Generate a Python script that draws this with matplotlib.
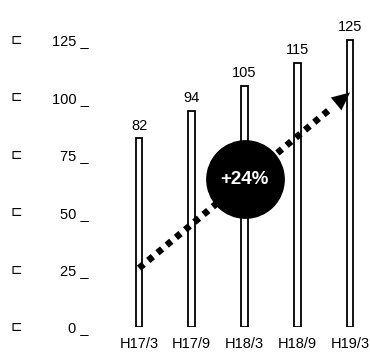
import matplotlib
matplotlib.use("Agg")
import matplotlib.pyplot as plt
from matplotlib.transforms import blended_transform_factory

periods = ["H17/3", "H17/9", "H18/3", "H18/9", "H19/3"]
values = [82, 94, 105, 115, 125]
yticks = [0, 25, 50, 75, 100, 125]
growth_label = "+24%"
trend_start = 25.6
trend_end = 102

plt.rcParams["font.family"] = ["Liberation Sans", "DejaVu Sans"]

fig = plt.figure(figsize=(3.70, 3.56), dpi=100)
ax = fig.add_axes([100 / 370, 29 / 356, 268 / 370, 327 / 356])

x = list(range(len(values)))
ax.bar(x, values, width=0.13, color="white", edgecolor="black", linewidth=1.3, zorder=2)
for xi, v in zip(x, values):
    ax.text(xi, v + 2.5, str(v), ha="center", va="bottom", fontsize=10.5)

# dotted trend arrow
ax.plot([x[0], x[-1] - 0.35], [trend_start, trend_start + (trend_end - trend_start) * (1 - 0.35 / 4)],
        color="black", linewidth=4.8, linestyle=(0, (0.9, 0.9)), zorder=3)
ax.annotate("", xy=(x[-1], trend_end), xytext=(x[-1] - 0.4, trend_end - 7.6),
            arrowprops=dict(arrowstyle="-|>,head_length=1.3,head_width=0.6",
                            color="black", lw=0, shrinkA=0, shrinkB=0), zorder=3)

# growth badge
ax.scatter([2], [64.3], s=3100, color="black", zorder=4)
ax.text(2, 64.3, growth_label, color="white", fontsize=13.5, fontweight="bold",
        ha="center", va="center", zorder=5)

ax.set_xlim(-0.74, 4.34)
ax.set_ylim(0, 142.2)
ax.set_xticks(x)
ax.set_xticklabels(periods, fontsize=10.5)
ax.set_yticks(yticks)
ax.set_yticklabels([f"{t} _" for t in yticks], fontsize=10.5)
ax.tick_params(axis="both", length=0)
ax.tick_params(axis="y", pad=8)
ax.tick_params(axis="x", pad=7)
for s in ax.spines.values():
    s.set_visible(False)

trans = blended_transform_factory(fig.transFigure, ax.transData)
for t in yticks:
    ax.text(16 / 370, t, "\u228f", transform=trans, fontsize=10, ha="center", va="center",
            family="DejaVu Sans")

fig.savefig("out.png", dpi=100)
